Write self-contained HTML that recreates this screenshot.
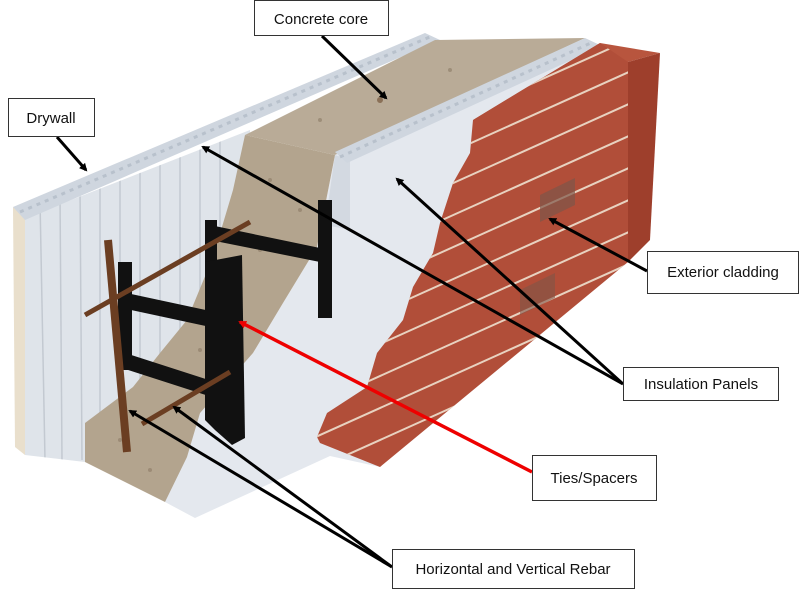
<!DOCTYPE html>
<html><head><meta charset="utf-8"><style>
html,body{margin:0;padding:0;background:#fff;}
svg{display:block;}
text{font-family:"Liberation Sans",sans-serif;font-size:15px;fill:#111;}
</style></head><body>
<svg width="800" height="590" viewBox="0 0 800 590" xmlns="http://www.w3.org/2000/svg">
<defs>
<marker id="ah" markerWidth="8" markerHeight="8" refX="6" refY="4" orient="auto" markerUnits="userSpaceOnUse">
<path d="M0,0 L8,4 L0,8 Z" fill="#000"/></marker>
<marker id="ahr" markerWidth="8" markerHeight="8" refX="6" refY="4" orient="auto" markerUnits="userSpaceOnUse">
<path d="M0,0 L8,4 L0,8 Z" fill="#e00"/></marker>
<clipPath id="brick"><path d="M473,120 L600,43 L628,62 L628,262 L380,467 L320,443 L317,437 L327,413 L367,387 L377,353 L403,320 L413,287 L433,253 L440,223 L453,183 L470,153 Z"/></clipPath>
<clipPath id="lp"><path d="M25,218 L250,130 L250,470 L85,462 L25,455 Z"/></clipPath>
</defs>

<path d="M13,207 L25,218 L25,455 L15,447 Z" fill="#e9dfcc"/>
<path d="M25,218 L250,130 L250,470 L85,462 L25,455 Z" fill="#dfe4ea"/>
<g clip-path="url(#lp)" stroke="#c3c9d1" stroke-width="1.5">
<line x1="40" y1="200" x2="45" y2="460"/><line x1="60" y1="195" x2="62" y2="460"/>
<line x1="80" y1="188" x2="82" y2="460"/><line x1="100" y1="180" x2="100" y2="460"/>
<line x1="120" y1="172" x2="120" y2="460"/><line x1="140" y1="164" x2="140" y2="460"/>
<line x1="160" y1="156" x2="160" y2="460"/><line x1="180" y1="148" x2="180" y2="460"/>
<line x1="200" y1="140" x2="200" y2="460"/><line x1="220" y1="132" x2="220" y2="460"/>
</g>
<path d="M13,207 L425,33 L440,40 L25,220 Z" fill="#cfd6df"/>
<line x1="20" y1="212" x2="432" y2="36" stroke="#b8c1cc" stroke-width="3" stroke-dasharray="4,5"/>
<path d="M245,135 L435,40 L585,38 L335,155 Z" fill="#b9ab97"/>
<path d="M335,155 L590,42 L628,62 L380,467 L330,456 L195,518 L165,502 L172,470 L200,413 L253,353 L283,303 L317,247 Z" fill="#e4e8ee"/>
<path d="M335,155 L350,160 L350,230 L325,225 Z" fill="#d3d9e1"/>
<path d="M245,135 L335,155 L317,247 L283,303 L253,353 L200,413 L187,457 L165,502 L85,462 L85,423 L133,387 L160,353 L187,320 L213,257 L233,190 Z" fill="#b3a48e"/>
<g fill="#8c7b66" opacity="0.6">
<circle cx="270" cy="180" r="2"/><circle cx="300" cy="210" r="2"/><circle cx="260" cy="250" r="2"/><circle cx="230" cy="300" r="2"/><circle cx="200" cy="350" r="2"/><circle cx="120" cy="440" r="2"/><circle cx="150" cy="470" r="2"/><circle cx="380" cy="100" r="3" fill="#6b4a2e"/><circle cx="320" cy="120" r="2"/><circle cx="450" cy="70" r="2"/>
</g>
<path d="M335,152 L585,38 L602,46 L347,163 Z" fill="#cfd6df"/>
<line x1="340" y1="157" x2="593" y2="42" stroke="#b8c1cc" stroke-width="3" stroke-dasharray="4,5"/>

<path d="M473,120 L600,43 L660,53 L628,62 Z" fill="#b8553e"/>
<path d="M628,62 L660,53 L650,240 L628,262 Z" fill="#9e3f2c"/>
<path d="M473,120 L600,43 L628,62 L628,262 L380,467 L320,443 L317,437 L327,413 L367,387 L377,353 L403,320 L413,287 L433,253 L440,223 L453,183 L470,153 Z" fill="#b14e39"/>
<g clip-path="url(#brick)" stroke="#e8d2c0" stroke-width="2">
<line x1="300" y1="220" x2="700" y2="40"/><line x1="300" y1="252" x2="700" y2="72"/>
<line x1="300" y1="284" x2="700" y2="104"/><line x1="300" y1="316" x2="700" y2="136"/>
<line x1="300" y1="348" x2="700" y2="168"/><line x1="300" y1="380" x2="700" y2="200"/>
<line x1="300" y1="412" x2="700" y2="232"/><line x1="300" y1="444" x2="700" y2="264"/>
<line x1="300" y1="476" x2="700" y2="296"/><line x1="300" y1="188" x2="700" y2="8"/>
</g>
<path d="M540,195 L575,178 L575,205 L540,222 Z" fill="#7e5548" opacity="0.7"/>
<path d="M520,290 L555,273 L555,298 L520,315 Z" fill="#7e5548" opacity="0.6"/>

<g fill="#111">
<rect x="205" y="220" width="12" height="45"/>
<polygon points="210,225 320,248 320,262 210,240"/>
<rect x="318" y="200" width="14" height="118"/>
<polygon points="122,292 215,312 215,328 122,308"/>
<polygon points="122,352 215,382 215,398 122,368"/>
<rect x="118" y="262" width="14" height="108"/>
<polygon points="205,262 242,255 245,438 232,445 215,430 205,420"/>
</g>
<line x1="108" y1="240" x2="127" y2="452" stroke="#6b3e22" stroke-width="8"/>
<line x1="85" y1="315" x2="250" y2="222" stroke="#6b3e22" stroke-width="5"/>
<line x1="142" y1="424" x2="230" y2="372" stroke="#6b3e22" stroke-width="5"/>

<g stroke="#000" stroke-width="3" fill="none">
<line x1="322" y1="36" x2="386" y2="98" marker-end="url(#ah)"/>
<line x1="57" y1="137" x2="86" y2="170" marker-end="url(#ah)"/>
<line x1="647" y1="271" x2="550" y2="219" marker-end="url(#ah)"/>
<line x1="623" y1="384" x2="203" y2="147" marker-end="url(#ah)"/>
<line x1="623" y1="384" x2="397" y2="179" marker-end="url(#ah)"/>
<line x1="392" y1="567" x2="130" y2="411" marker-end="url(#ah)"/>
<line x1="392" y1="567" x2="174" y2="407" marker-end="url(#ah)"/>
</g>
<line x1="532" y1="472" x2="240" y2="322" stroke="#e00" stroke-width="3.5" marker-end="url(#ahr)"/>

<g fill="#fff" stroke="#333" stroke-width="1">
<rect x="254.5" y="0.5" width="134" height="35"/>
<rect x="8.5" y="98.5" width="86" height="38"/>
<rect x="647.5" y="251.5" width="151" height="42"/>
<rect x="623.5" y="367.5" width="155" height="33"/>
<rect x="532.5" y="455.5" width="124" height="45"/>
<rect x="392.5" y="549.5" width="242" height="39"/>
</g>
<text x="321" y="24" text-anchor="middle">Concrete core</text>
<text x="51" y="123" text-anchor="middle">Drywall</text>
<text x="723" y="277" text-anchor="middle">Exterior cladding</text>
<text x="701" y="389" text-anchor="middle">Insulation Panels</text>
<text x="594" y="483" text-anchor="middle">Ties/Spacers</text>
<text x="513" y="574" text-anchor="middle">Horizontal and Vertical Rebar</text>
</svg>
</body></html>
